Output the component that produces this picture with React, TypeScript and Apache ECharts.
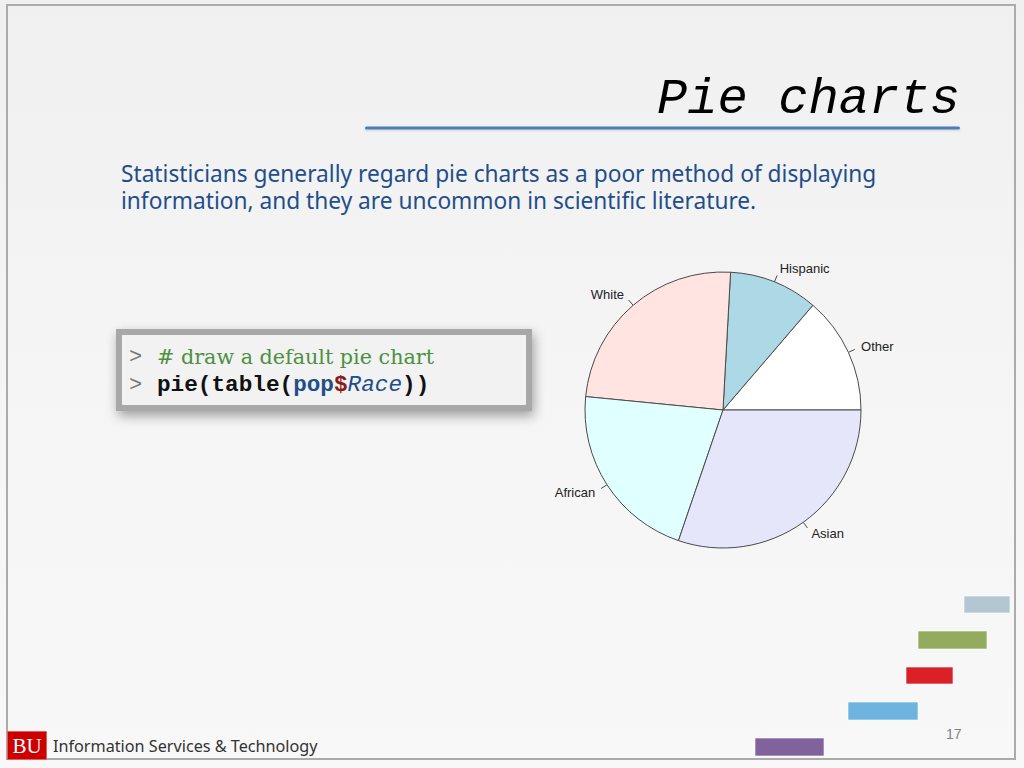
import React, { useEffect, useRef } from "react";
import * as echarts from "echarts";

// Pie data (counterclockwise from 3 o'clock, as R draws it)
const raceCategories = ["Other", "Hispanic", "White", "African", "Asian"];
const raceCounts = [137, 104, 243, 213, 302];
const sliceColors = ["#FFFFFF", "#ADD8E6", "#FFE4E1", "#E0FFFF", "#E6E6FA"];

// Slide texts
const titleText = "Pie charts";
const paragraphLines = [
  "Statisticians generally regard pie charts as a poor method of displaying",
  "information, and they are uncommon in scientific literature.",
];
const codeComment = "# draw a default pie chart";
const footerText = "Information Services & Technology";
const pageNumber = "17";

// Decorative bars bottom-right: [x, y, w, h, color]
const decoBars: [number, number, number, number, string][] = [
  [964, 596, 46, 17, "#B3C6D2"],
  [918, 631, 69, 18, "#93AB5E"],
  [906, 667, 47, 17, "#DA2128"],
  [848, 702, 70, 18, "#6DB4DF"],
  [755, 738, 69, 18, "#80629C"],
];

export default function App() {
  const ref = useRef<HTMLDivElement>(null);
  useEffect(() => {
    if (!ref.current) return;
    const chart = echarts.init(ref.current, null, { renderer: "svg" });
    const graphics: any[] = [
      {
        type: "rect",
        shape: { x: 0, y: 0, width: 1024, height: 768 },
        style: {
          fill: new echarts.graphic.LinearGradient(0, 0, 0, 1, [
            { offset: 0, color: "#F0F0F0" },
            { offset: 0.5, color: "#F5F5F5" },
            { offset: 1, color: "#F8F8F8" },
          ]),
        },
        z: -10,
        silent: true,
      },
      {
        type: "rect",
        shape: { x: 7, y: 5, width: 1008, height: 754 },
        style: { fill: "none", stroke: "#ABABAB", lineWidth: 2 },
        z: -9,
      },
      {
        type: "text",
        x: 960,
        y: 99,
        style: {
          text: titleText,
          font: "italic 50.5px 'Liberation Mono'",
          fill: "#000000",
          align: "right",
          verticalAlign: "middle",
        },
      },
      {
        type: "rect",
        shape: { x: 365, y: 126.5, width: 595, height: 3, r: 1.5 },
        style: {
          fill: "#4A7EBB",
          shadowColor: "rgba(0,0,0,0.15)",
          shadowBlur: 2,
          shadowOffsetY: 1,
        },
      },
      ...paragraphLines.map((t, i) => ({
        type: "text",
        x: 121,
        y: 173.5 + i * 27,
        style: {
          text: t,
          font: "22.7px 'Noto Sans'",
          lineHeight: 26,
          fill: "#1F4E8A",
          align: "left",
          verticalAlign: "middle",
        },
      })),
      {
        type: "rect",
        shape: { x: 119, y: 332, width: 410, height: 76 },
        style: {
          fill: "#F2F2F2",
          stroke: "#A8A8A8",
          lineWidth: 6,
          shadowColor: "rgba(0,0,0,0.35)",
          shadowBlur: 12,
          shadowOffsetX: 2,
          shadowOffsetY: 5,
        },
      },
      {
        type: "text",
        x: 129,
        y: 357,
        style: {
          text: ">",
          font: "22px 'Liberation Mono'",
          fill: "#777777",
          verticalAlign: "middle",
        },
      },
      {
        type: "text",
        x: 129,
        y: 385,
        style: {
          text: ">",
          font: "22px 'Liberation Mono'",
          fill: "#777777",
          verticalAlign: "middle",
        },
      },
      {
        type: "text",
        x: 157,
        y: 357,
        style: {
          text: codeComment,
          font: "20.7px 'DejaVu Serif'",
          fill: "#4C9040",
          verticalAlign: "middle",
        },
      },
      {
        type: "text",
        x: 157,
        y: 385,
        style: {
          text: "{b|pie(table(}{p|pop}{d|$}{r|Race}{b|))}",
          verticalAlign: "middle",
          rich: {
            b: { font: "bold 22.7px 'Liberation Mono'", fill: "#111111" },
            p: { font: "bold 22.7px 'Liberation Mono'", fill: "#1F4E8A" },
            d: { font: "bold 22.7px 'Liberation Mono'", fill: "#8B1A1A" },
            r: { font: "italic 22.7px 'Liberation Mono'", fill: "#1F4E8A" },
          },
        },
      },
      {
        type: "rect",
        shape: { x: 7.5, y: 731.5, width: 39, height: 28 },
        style: { fill: "#CC0000", stroke: "#E06060", lineWidth: 1 },
      },
      {
        type: "text",
        x: 27,
        y: 746,
        style: {
          text: "BU",
          font: "21px 'Liberation Serif'",
          fill: "#FFFFFF",
          align: "center",
          verticalAlign: "middle",
        },
      },
      {
        type: "text",
        x: 53,
        y: 746,
        style: {
          text: footerText,
          font: "16.2px 'Noto Sans'",
          fill: "#333333",
          verticalAlign: "middle",
        },
      },
      {
        type: "text",
        x: 946,
        y: 734,
        style: {
          text: pageNumber,
          font: "14px 'Liberation Sans'",
          fill: "#808080",
          verticalAlign: "middle",
        },
      },
      ...decoBars.map(([x, y, w, h, c]) => ({
        type: "rect",
        shape: { x, y, width: w, height: h },
        style: { fill: c, stroke: "rgba(255,255,255,0.6)", lineWidth: 1 },
      })),
    ];

    const pieData = raceCategories.map((n, i) => ({
      name: n,
      value: raceCounts[i],
      itemStyle: { color: sliceColors[i] },
    }));

    chart.setOption({
      animation: false,
      graphic: graphics,
      series: [
        {
          // slices + tick marks (label text invisible)
          type: "pie",
          center: [723, 410],
          radius: 138,
          startAngle: 0,
          clockwise: false,
          avoidLabelOverlap: false,
          z: 5,
          itemStyle: { borderColor: "#4A4A4A", borderWidth: 1 },
          label: {
            show: true,
            position: "outside",
            formatter: " ",
            fontSize: 1,
            color: "transparent",
            distanceToLabelLine: 0,
          },
          labelLine: {
            show: true,
            length: 7,
            length2: 0,
            lineStyle: { color: "#4A4A4A", width: 1 },
          },
          emphasis: { disabled: true },
          data: pieData,
        },
        {
          // label texts at 1.1 radius, as R places them
          type: "pie",
          center: [723, 410],
          radius: 138,
          startAngle: 0,
          clockwise: false,
          avoidLabelOverlap: false,
          silent: true,
          z: 4,
          itemStyle: { color: "transparent", borderWidth: 0 },
          label: {
            show: true,
            position: "outside",
            fontFamily: "'Liberation Sans'",
            fontSize: 13,
            color: "#222222",
            distanceToLabelLine: 0,
          },
          labelLine: { show: false, length: 14, length2: 0 },
          emphasis: { disabled: true },
          data: raceCategories.map((n, i) => ({ name: n, value: raceCounts[i] })),
        },
      ],
    });
    return () => chart.dispose();
  }, []);
  return (
    <div
      ref={ref}
      style={{ position: "absolute", left: 0, top: 0, width: 1024, height: 768 }}
    />
  );
}
